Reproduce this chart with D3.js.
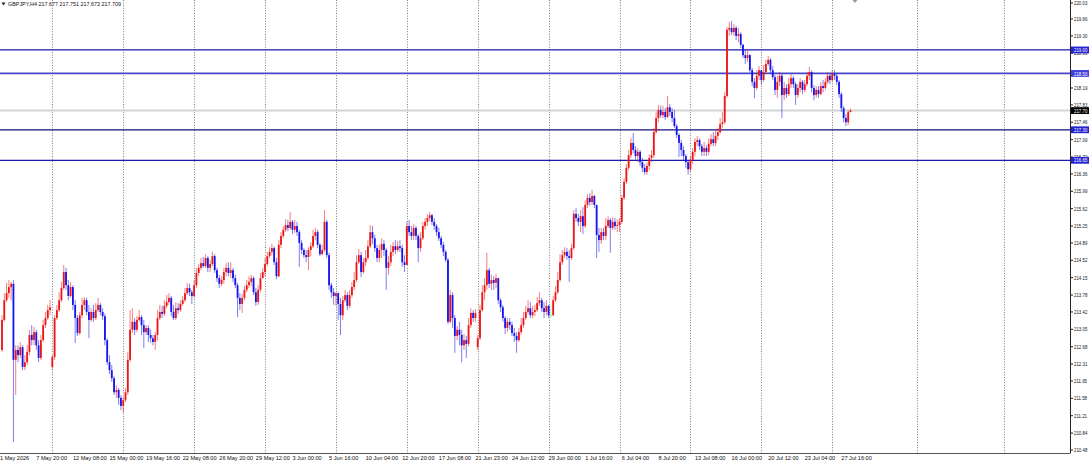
<!DOCTYPE html>
<html>
<head>
<meta charset="utf-8">
<script src="https://cdn.jsdelivr.net/npm/d3@7"></script>
<style>
  body { margin: 0; background: #fff; }
  svg { display: block; }
</style>
</head>
<body>
<div id="chart"></div>
<script>
const symbolTitle = 'GBPJPY,H4'
const lastBarOhlc = ['217.677', '217.751', '217.673', '217.709']

// H4 bars (open = previous close unless listed in gapOpens)
const firstOpen = 212.61
const gapOpens = [[22, 212.25], [208, 212.67]]

const closes = [
  213.25, 213.67, 213.82, 213.95, 214.02, 212.40, 212.61, 212.50, 212.67, 212.25,
  212.35, 212.57, 212.93, 212.82, 212.99, 212.71, 212.44, 212.82, 213.14, 213.29,
  213.46, 213.52, 212.46, 213.29, 213.46, 213.67, 213.93, 214.27, 213.99, 213.76,
  213.95, 213.57, 213.29, 212.97, 213.35, 213.57, 213.67, 213.42, 213.25, 213.42,
  213.29, 213.46, 213.57, 213.42, 213.33, 212.82, 212.35, 212.18, 212.01, 211.71,
  211.76, 211.59, 211.42, 211.54, 211.71, 212.40, 213.04, 213.21, 213.04, 213.25,
  213.31, 213.14, 212.99, 213.08, 212.93, 212.86, 212.78, 212.93, 213.29, 213.42,
  213.38, 213.55, 213.63, 213.72, 213.42, 213.29, 213.50, 213.46, 213.59, 213.67,
  213.82, 213.93, 213.84, 213.76, 213.99, 214.25, 214.36, 214.46, 214.40, 214.57,
  214.36, 214.44, 214.61, 214.31, 214.14, 214.02, 214.10, 214.27, 214.36, 214.25,
  214.31, 214.14, 213.99, 213.72, 213.59, 213.72, 213.89, 213.99, 214.06, 214.14,
  213.84, 213.63, 213.89, 214.14, 214.27, 214.44, 214.61, 214.70, 214.78, 214.48,
  214.18, 214.85, 215.04, 215.17, 215.27, 215.21, 215.34, 215.17, 215.25, 215.12,
  214.89, 214.74, 214.63, 214.59, 214.74, 214.82, 215.04, 215.12, 214.85, 214.65,
  214.74, 215.34, 214.63, 213.99, 213.84, 213.76, 213.82, 213.59, 213.35, 213.67,
  213.78, 213.55, 213.78, 213.95, 214.10, 214.48, 214.63, 214.27, 214.48, 214.57,
  214.82, 215.12, 214.99, 214.78, 214.57, 214.74, 214.87, 214.74, 214.36, 214.48,
  214.70, 214.82, 214.74, 214.82, 214.78, 214.48, 214.42, 215.25, 215.12, 215.04,
  215.21, 215.04, 214.78, 214.99, 215.25, 215.34, 215.42, 215.48, 215.34, 215.25,
  215.12, 214.99, 214.85, 214.70, 214.53, 213.21, 213.78, 213.29, 212.91, 213.04,
  212.93, 212.71, 212.82, 212.74, 213.14, 213.40, 213.29, 213.40, 212.86, 213.46,
  213.84, 213.99, 214.31, 214.02, 214.10, 214.04, 214.14, 213.67, 213.52, 213.29,
  213.08, 213.21, 213.14, 212.97, 212.91, 212.82, 212.99, 213.14, 213.29, 213.42,
  213.50, 213.35, 213.42, 213.46, 213.61, 213.67, 213.50, 213.42, 213.55, 213.35,
  213.35, 213.67, 213.84, 214.10, 214.48, 214.63, 214.70, 214.61, 214.57, 214.78,
  215.51, 215.42, 215.34, 215.46, 215.25, 215.70, 215.85, 215.76, 215.89, 215.70,
  215.06, 214.95, 215.12, 215.04, 215.25, 215.38, 215.21, 215.34, 215.25, 215.27,
  215.34, 215.85, 216.19, 216.49, 216.76, 217.02, 216.87, 216.74, 216.83, 216.61,
  216.49, 216.40, 216.53, 216.70, 216.76, 217.25, 217.55, 217.72, 217.61, 217.68,
  217.57, 217.78, 217.68, 217.55, 217.38, 217.19, 217.02, 216.87, 216.74, 216.61,
  216.46, 216.66, 216.83, 217.04, 217.08, 216.95, 216.83, 216.91, 216.83, 217.00,
  217.10, 217.02, 217.17, 217.25, 217.42, 217.46, 218.02, 219.43, 219.47, 219.38,
  219.47, 219.30, 219.34, 219.11, 218.89, 218.83, 218.89, 218.57, 218.32, 218.19,
  218.45, 218.57, 218.36, 218.53, 218.70, 218.79, 218.57, 218.42, 218.15, 218.32,
  218.45, 218.04, 218.19, 218.06, 218.27, 218.40, 218.27, 218.04, 218.19, 218.32,
  218.15, 218.27, 218.45, 218.53, 218.19, 218.04, 218.15, 218.06, 218.23, 218.19,
  218.32, 218.45, 218.36, 218.49, 218.45, 218.32, 218.06, 217.76, 217.55, 217.46,
  217.677, 217.709
]

const highs = [
  213.35, 213.82, 214.04, 214.10, 214.06, 214.10, 212.71, 212.71, 212.78, 212.71,
  212.50, 212.71, 213.04, 213.14, 213.10, 213.04, 212.82, 212.93, 213.25, 213.42,
  213.57, 213.67, 212.50, 213.35, 213.57, 213.84, 214.06, 214.42, 214.36, 214.10,
  214.06, 213.99, 213.67, 213.35, 213.42, 213.72, 213.74, 213.72, 213.57, 213.50,
  213.57, 213.61, 213.72, 213.61, 213.50, 213.38, 212.86, 212.50, 212.29, 212.06,
  211.86, 211.80, 211.65, 211.61, 211.80, 212.57, 213.46, 213.50, 213.29, 213.33,
  213.46, 213.35, 213.25, 213.14, 213.14, 213.04, 212.93, 212.99, 213.46, 213.57,
  213.55, 213.67, 213.78, 213.82, 213.76, 213.57, 213.63, 213.61, 213.67, 213.76,
  213.93, 214.04, 214.02, 213.89, 214.10, 214.36, 214.44, 214.57, 214.59, 214.65,
  214.61, 214.53, 214.70, 214.65, 214.36, 214.21, 214.18, 214.36, 214.46, 214.48,
  214.48, 214.36, 214.21, 214.04, 213.82, 213.80, 213.97, 214.10, 214.18, 214.21,
  214.18, 213.93, 213.99, 214.25, 214.36, 214.57, 214.70, 214.80, 214.87, 214.82,
  214.57, 214.95, 215.12, 215.25, 215.40, 215.38, 215.55, 215.38, 215.38, 215.34,
  215.17, 214.95, 214.78, 214.74, 214.80, 214.91, 215.17, 215.21, 215.17, 214.89,
  214.85, 215.59, 215.38, 214.68, 214.04, 213.93, 213.84, 213.84, 213.72, 213.76,
  213.89, 213.84, 213.89, 214.06, 214.27, 214.63, 214.76, 214.70, 214.57, 214.74,
  214.95, 215.27, 215.25, 215.06, 214.85, 214.85, 214.99, 214.95, 214.78, 214.61,
  214.85, 214.91, 214.95, 214.93, 214.95, 214.85, 214.63, 215.34, 215.38, 215.25,
  215.29, 215.25, 215.08, 215.12, 215.34, 215.42, 215.51, 215.55, 215.51, 215.42,
  215.29, 215.21, 215.04, 214.91, 214.74, 214.57, 213.89, 213.84, 213.35, 213.12,
  213.21, 213.04, 212.95, 212.91, 213.29, 213.50, 213.46, 213.48, 212.93, 213.57,
  213.99, 214.14, 214.68, 214.36, 214.21, 214.18, 214.23, 214.10, 213.72, 213.57,
  213.33, 213.29, 213.29, 213.21, 213.08, 212.99, 213.08, 213.29, 213.42, 213.55,
  213.67, 213.63, 213.55, 213.57, 213.74, 213.84, 213.72, 213.63, 213.67, 213.57,
  213.57, 213.76, 213.97, 214.27, 214.65, 214.74, 214.80, 214.78, 214.74, 214.87,
  215.59, 215.63, 215.51, 215.59, 215.65, 215.80, 215.93, 215.95, 216.02, 215.91,
  215.70, 215.21, 215.21, 215.21, 215.42, 215.46, 215.42, 215.44, 215.42, 215.40,
  215.42, 215.91, 216.27, 216.57, 216.87, 217.12, 217.23, 216.95, 216.91, 216.87,
  216.70, 216.57, 216.61, 216.78, 216.87, 217.34, 217.68, 217.83, 217.81, 217.81,
  217.76, 218.02, 217.85, 217.76, 217.72, 217.42, 217.23, 217.08, 216.95, 216.78,
  216.66, 216.74, 216.91, 217.12, 217.17, 217.12, 217.00, 217.04, 216.97, 217.12,
  217.21, 217.25, 217.29, 217.34, 217.55, 217.68, 218.10, 219.49, 219.60, 219.62,
  219.55, 219.51, 219.47, 219.38, 219.13, 219.00, 219.00, 218.91, 218.62, 218.40,
  218.57, 218.66, 218.57, 218.68, 218.79, 218.87, 218.83, 218.66, 218.47, 218.45,
  218.53, 218.49, 218.32, 218.27, 218.40, 218.49, 218.45, 218.32, 218.27, 218.40,
  218.36, 218.36, 218.53, 218.64, 218.57, 218.25, 218.23, 218.23, 218.32, 218.36,
  218.40, 218.53, 218.51, 218.57, 218.57, 218.49, 218.36, 218.10, 217.81, 217.63,
  217.72, 217.751
]

const lows = [
  212.57, 213.21, 213.63, 213.72, 213.67, 210.65, 211.65, 212.35, 212.44, 212.18,
  212.18, 212.29, 212.50, 212.71, 212.71, 212.61, 212.35, 212.40, 212.78, 213.08,
  213.25, 213.35, 212.20, 212.40, 213.25, 213.42, 213.63, 213.89, 213.89, 213.67,
  213.72, 213.46, 212.76, 212.91, 212.93, 213.29, 213.46, 213.35, 212.86, 213.21,
  213.21, 213.25, 213.42, 213.35, 213.25, 212.71, 212.29, 212.10, 211.93, 211.65,
  211.59, 211.44, 211.33, 211.27, 211.50, 211.65, 212.35, 212.97, 212.93, 212.99,
  213.21, 212.93, 212.65, 212.93, 212.78, 212.76, 212.71, 212.61, 212.82, 213.25,
  213.29, 213.33, 213.50, 213.57, 213.33, 213.25, 213.25, 213.38, 213.42, 213.55,
  213.63, 213.78, 213.76, 213.59, 213.72, 213.93, 214.18, 214.31, 214.36, 214.36,
  214.27, 214.27, 214.40, 214.25, 214.06, 213.93, 213.97, 214.02, 214.18, 214.18,
  214.14, 214.06, 213.93, 213.31, 213.46, 213.40, 213.67, 213.84, 213.93, 213.97,
  213.78, 213.55, 213.57, 213.84, 214.14, 214.18, 214.40, 214.57, 214.63, 214.42,
  214.12, 214.16, 214.78, 214.99, 215.12, 215.14, 215.17, 215.08, 215.10, 215.04,
  214.38, 214.65, 214.57, 214.48, 214.31, 214.61, 214.78, 214.95, 214.78, 214.61,
  214.63, 214.70, 214.57, 213.89, 213.72, 213.57, 213.55, 213.25, 212.93, 213.25,
  213.63, 213.46, 213.50, 213.72, 213.89, 214.06, 214.44, 214.16, 214.23, 214.40,
  214.53, 214.78, 214.87, 214.70, 214.48, 214.48, 214.57, 214.61, 213.89, 214.21,
  214.40, 214.61, 214.65, 214.70, 214.70, 214.38, 214.27, 214.42, 215.04, 214.95,
  214.95, 214.95, 214.48, 214.70, 214.95, 215.17, 215.25, 215.34, 215.27, 215.17,
  215.04, 214.93, 214.78, 214.61, 214.48, 213.16, 213.18, 213.08, 212.55, 212.82,
  212.71, 212.35, 212.61, 212.44, 212.69, 213.08, 213.21, 213.21, 212.61, 212.82,
  213.42, 213.67, 213.89, 213.93, 213.89, 213.89, 213.93, 213.59, 213.42, 213.21,
  212.95, 212.99, 213.04, 212.91, 212.78, 212.55, 212.78, 212.93, 213.08, 213.25,
  213.38, 213.29, 213.29, 213.33, 213.42, 213.55, 213.42, 213.29, 213.35, 213.29,
  213.29, 213.33, 213.63, 213.80, 214.06, 214.42, 214.57, 214.53, 214.06, 214.53,
  214.74, 215.34, 215.25, 215.12, 215.08, 215.21, 215.63, 215.68, 215.70, 215.63,
  214.57, 214.70, 214.87, 214.95, 214.95, 215.21, 214.68, 215.17, 215.17, 215.12,
  215.12, 215.29, 215.80, 216.14, 216.44, 216.70, 216.80, 216.66, 216.61, 216.53,
  216.40, 216.34, 216.34, 216.44, 216.61, 216.70, 217.21, 217.46, 217.55, 217.55,
  217.51, 217.55, 217.59, 217.46, 217.34, 217.12, 216.72, 216.74, 216.66, 216.49,
  216.34, 216.40, 216.57, 216.74, 216.95, 216.87, 216.74, 216.74, 216.74, 216.76,
  216.95, 216.95, 216.95, 217.08, 217.21, 217.34, 217.42, 217.98, 219.30, 219.32,
  219.30, 219.21, 219.17, 219.04, 218.83, 218.70, 218.74, 218.53, 218.23, 217.97,
  218.15, 218.36, 218.27, 218.32, 218.49, 218.66, 218.49, 218.36, 218.04, 217.98,
  218.23, 217.55, 217.93, 217.98, 218.02, 218.19, 218.19, 217.83, 217.98, 218.10,
  218.06, 218.10, 218.23, 218.36, 218.10, 217.93, 217.98, 217.98, 218.04, 218.10,
  218.15, 218.27, 218.27, 218.32, 218.36, 218.25, 217.98, 217.68, 217.46, 217.38,
  217.40, 217.673
]

// 218.56 sits fully under the 218.50 box in the picture, so it is left out
const priceTicks = [
  '220.03', '219.66', '219.30', '218.93', '218.19', '217.83', '217.46', '217.09',
  '216.72', '216.36', '215.99', '215.62', '215.25', '214.89', '214.52', '214.15', '213.78',
  '213.42', '213.05', '212.68', '212.31', '211.95', '211.58', '211.21', '210.84', '210.48'
]

// [bar index, label]
const timeLabels = [
  [0, '1 May 2026'], [15, '7 May 20:00'], [31, '12 May 08:00'], [47, '15 May 00:00'],
  [63, '19 May 16:00'], [79, '22 May 08:00'], [95, '26 May 20:00'], [111, '29 May 12:00'],
  [127, '3 Jun 00:00'], [143, '5 Jun 16:00'], [159, '10 Jun 04:00'], [175, '12 Jun 20:00'],
  [191, '17 Jun 08:00'], [207, '21 Jun 23:00'], [223, '24 Jun 12:00'], [239, '29 Jun 00:00'],
  [255, '1 Jul 16:00'], [271, '6 Jul 04:00'], [287, '8 Jul 20:00'], [303, '13 Jul 08:00'],
  [319, '16 Jul 00:00'], [335, '20 Jul 12:00'], [351, '23 Jul 04:00'], [367, '27 Jul 16:00']
]

// period separators (bar index), the last two sit in the empty right margin
const separators = [22, 53, 84, 115, 146, 177, 208, 239, 270, 301, 332, 363, 400, 438]

const levelPrices = [219.00, 218.50, 217.30, 216.65]
const levelLabels = ['219.00', '218.50', '217.30', '216.65']
const bidLabel = '217.70'

const width = 1089
const height = 464
const plotRight = 1070
const plotBottom = 453

const levelStroke = ['#1a1aa8', '#4646cc', '#12127a', '#1a1aa8']
const levelWidth = [1.2, 1.8, 1.2, 1.2]
const levelBox = ['#2424d0', '#4040d8', '#2424d0', '#2424d0']

const svg = d3.select('#chart').append('svg')
  .attr('width', width)
  .attr('height', height)
  .attr('viewBox', [0, 0, width, height])
  .style('font-family', "'Liberation Sans', Arial, sans-serif")

svg.append('rect').attr('width', width).attr('height', height).attr('fill', '#fff')

const x = d3.scaleLinear()
  .domain([0, closes.length - 1])
  .range([2, 850.5])

const y = d3.scaleLinear()
  .domain([210.48, 220.03])
  .range([450, 1.6])

svg.append('clipPath').attr('id', 'plot')
  .append('rect').attr('width', plotRight).attr('height', plotBottom)

const plot = svg.append('g').attr('clip-path', 'url(#plot)')

// period separators
plot.append('g')
  .selectAll('line')
  .data(separators)
  .join('line')
  .attr('x1', d => Math.round(x(d)) + 0.5)
  .attr('x2', d => Math.round(x(d)) + 0.5)
  .attr('y1', 0)
  .attr('y2', plotBottom)
  .attr('stroke', '#6e6e6e')
  .attr('stroke-width', 0.9)
  .attr('stroke-dasharray', '1,1.6')

// bid line
const bid = +lastBarOhlc[3]
plot.append('line')
  .attr('x1', 0).attr('x2', plotRight)
  .attr('y1', y(bid)).attr('y2', y(bid))
  .attr('stroke', '#d2d6d6')
  .attr('stroke-width', 2)

// horizontal levels
plot.append('g')
  .selectAll('line')
  .data(levelPrices)
  .join('line')
  .attr('x1', 0).attr('x2', plotRight)
  .attr('y1', d => y(d)).attr('y2', d => y(d))
  .attr('stroke', (d, i) => levelStroke[i])
  .attr('stroke-width', (d, i) => levelWidth[i])

// candles
const bars = closes.map((c, i) => {
  const gap = gapOpens.find(g => g[0] === i)
  const o = gap ? gap[1] : (i === 0 ? firstOpen : closes[i - 1])
  return { i, o, h: highs[i], l: lows[i], c }
})
bars[bars.length - 1].o = +lastBarOhlc[0]

const barColor = d => d.c > d.o ? '#ee1414' : d.c < d.o ? '#1414ee' : '#74ee74'

const candles = plot.append('g')
  .selectAll('g')
  .data(bars)
  .join('g')

candles.append('line')
  .attr('x1', d => x(d.i)).attr('x2', d => x(d.i))
  .attr('y1', d => y(Math.max(d.h, d.o, d.c)))
  .attr('y2', d => y(Math.min(d.l, d.o, d.c)))
  .attr('stroke', barColor)
  .attr('stroke-opacity', 0.55)
  .attr('stroke-width', 1)

candles.append('rect')
  .attr('x', d => x(d.i) - 0.9)
  .attr('width', 1.8)
  .attr('y', d => y(Math.max(d.o, d.c)))
  .attr('height', d => Math.max(0.8, y(Math.min(d.o, d.c)) - y(Math.max(d.o, d.c))))
  .attr('fill', barColor)

// axes frame
svg.append('line')
  .attr('x1', plotRight + 0.5).attr('x2', plotRight + 0.5)
  .attr('y1', 0).attr('y2', plotBottom)
  .attr('stroke', '#222')
svg.append('line')
  .attr('x1', 0).attr('x2', plotRight + 0.5)
  .attr('y1', plotBottom + 0.5).attr('y2', plotBottom + 0.5)
  .attr('stroke', '#555')

// price scale (labels squeezed horizontally to fit the narrow strip)
const priceAxis = svg.append('g')
  .selectAll('g')
  .data(priceTicks)
  .join('g')
  .attr('transform', d => `translate(${plotRight},${Math.max(y(+d), 3)})`)
priceAxis.append('line')
  .attr('x1', 0).attr('x2', 3)
  .attr('stroke', '#222')
priceAxis.append('text')
  .attr('transform', 'translate(4,0) scale(0.74,1)')
  .attr('dy', '0.35em')
  .attr('font-size', 5.9)
  .attr('fill', '#111')
  .text(d => d)

// price boxes for levels and bid
const boxes = levelPrices.map((p, i) => ({ p, label: levelLabels[i], fill: levelBox[i] }))
boxes.push({ p: bid, label: bidLabel, fill: '#000' })
const boxG = svg.append('g')
  .selectAll('g')
  .data(boxes)
  .join('g')
  .attr('transform', d => `translate(${plotRight + 1},${y(d.p)})`)
boxG.append('rect')
  .attr('y', -3.4)
  .attr('width', width - plotRight - 1)
  .attr('height', 6.8)
  .attr('fill', d => d.fill)
boxG.append('text')
  .attr('transform', 'translate(3,0) scale(0.74,1)')
  .attr('dy', '0.35em')
  .attr('font-size', 5.9)
  .attr('fill', '#fff')
  .text(d => d.label)

// time scale
svg.append('g')
  .selectAll('text')
  .data(timeLabels)
  .join('text')
  .attr('x', d => d[0] === 0 ? 0 : x(d[0]))
  .attr('y', 460)
  .attr('font-size', 5.6)
  .attr('fill', '#111')
  .text(d => d[1])

// header
svg.append('path')
  .attr('d', 'M1.5,2.5 L5.5,2.5 L3.5,5.5 Z')
  .attr('fill', '#222')
svg.append('text')
  .attr('x', 8)
  .attr('y', 5.8)
  .attr('font-size', 5.6)
  .attr('textLength', 113)
  .attr('lengthAdjust', 'spacingAndGlyphs')
  .attr('fill', '#111')
  .text(`${symbolTitle}  ${lastBarOhlc.join(' ')}`)

// chart shift marker
svg.append('path')
  .attr('d', `M${x(closes.length - 1) + 2},0 L${x(closes.length - 1) + 7},0 L${x(closes.length - 1) + 4.5},3 Z`)
  .attr('fill', '#9a9a9a')
</script>
</body>
</html>
